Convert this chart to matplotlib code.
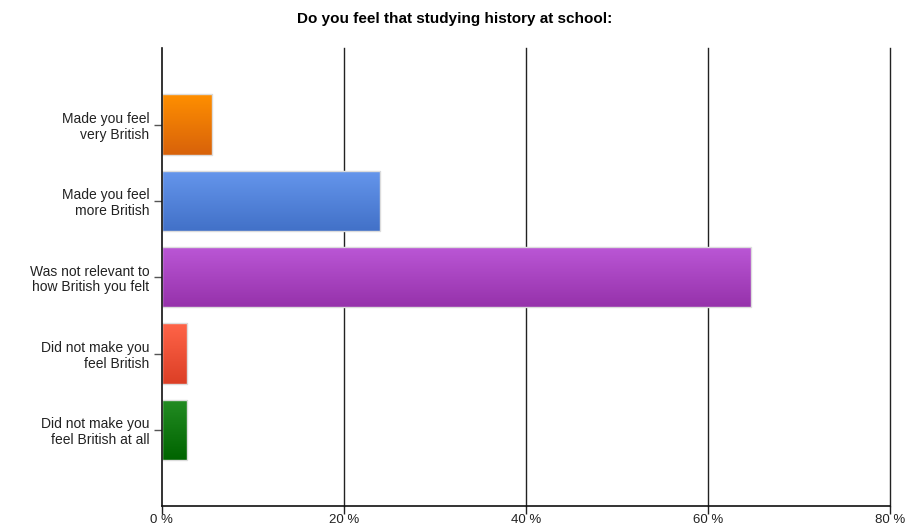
import numpy as np
import matplotlib
matplotlib.use("Agg")
import matplotlib.pyplot as plt
from matplotlib.colors import LinearSegmentedColormap
from matplotlib.patches import Rectangle

plt.rcParams['font.family'] = ['Liberation Sans', 'DejaVu Sans']

title = "Do you feel that studying history at school:"
categories = [
    "Made you feel\nvery British",
    "Made you feel\nmore British",
    "Was not relevant to\nhow British you felt",
    "Did not make you\nfeel British",
    "Did not make you\nfeel British at all",
]
percentages = [5.5, 24.0, 64.7, 2.8, 2.8]
tick_values = [0, 20, 40, 60, 80]
tick_labels = ["0 %", "20 %", "40 %", "60 %", "80 %"]
# (top colour, bottom colour) for each bar's vertical gradient
bar_colours = [
    ("#ff8f00", "#d8620a"),
    ("#6596ec", "#4271c8"),
    ("#bb57d6", "#9632ab"),
    ("#ff6448", "#dc3f26"),
    ("#238c23", "#006400"),
]

fig = plt.figure(figsize=(9.09, 5.30), dpi=100)
ax = fig.add_axes([0.178, 0.045, 0.801, 0.864])

ax.set_xlim(0, 80)
ax.set_ylim(len(categories), -1)
bar_h = 0.79

ax.barh(range(len(categories)), percentages, height=bar_h, color="none")

for i, (val, (c_top, c_bot)) in enumerate(zip(percentages, bar_colours)):
    cmap = LinearSegmentedColormap.from_list(f"g{i}", [c_top, c_bot])
    grad = np.linspace(0, 1, 64).reshape(-1, 1)
    y0, y1 = i - bar_h / 2, i + bar_h / 2
    im = ax.imshow(grad, cmap=cmap, aspect="auto", extent=(0, val, y1, y0),
                   interpolation="bilinear", zorder=2)
    rect = Rectangle((0, y0), val, bar_h, facecolor="none",
                     edgecolor="#dcdcdc", linewidth=1.0, zorder=3)
    ax.add_patch(rect)
    im.set_clip_path(rect)

ax.set_yticks(range(len(categories)))
ax.set_yticklabels(categories, fontsize=10, color="#222222", linespacing=1.15)
ax.set_xticks(tick_values)
ax.set_xticklabels(tick_labels, fontsize=9.5, color="#222222")
ax.tick_params(axis="y", length=6, width=1, color="#555555", pad=3)
ax.tick_params(axis="x", length=6, width=1, color="#222222", pad=0)

for v in tick_values[1:]:
    ax.axvline(v, color="#222222", linewidth=1.0, zorder=1, clip_on=False)

for side in ("top", "right"):
    ax.spines[side].set_visible(False)
for side in ("left", "bottom"):
    ax.spines[side].set_color("#111111")
    ax.spines[side].set_linewidth(1.2)
    ax.spines[side].set_zorder(4)

fig.text(0.5, 0.964, title, ha="center", va="center", fontsize=11,
         fontweight="bold", color="#000000")

fig.savefig("out.png", dpi=100)
